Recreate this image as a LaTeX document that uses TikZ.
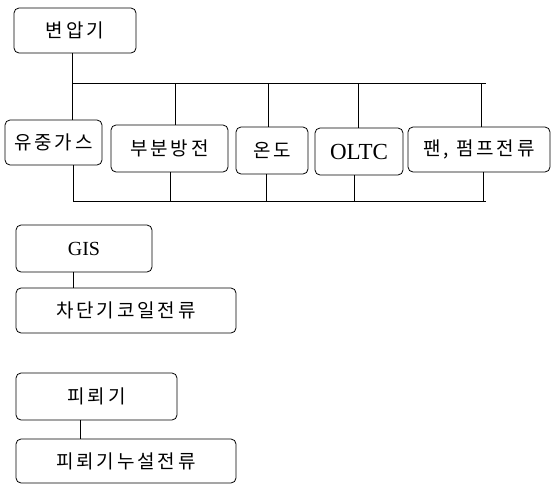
\documentclass[tikz,border=0pt]{standalone}
\usepackage{fontspec}
\setmainfont{Liberation Serif}
\newfontfamily\kr[LetterSpace=15]{Noto Sans CJK KR}
\begin{document}
\begin{tikzpicture}[x=1pt,y=-1pt,
  box/.style={draw,line width=0.8pt,rounded corners=5pt,inner sep=0pt,font=\kr\fontsize{19}{21}\selectfont},
  lat/.style={font=\fontsize{20}{22}\selectfont},
  wire/.style={line width=0.7pt}]
\useasboundingbox (0,0) rectangle (552,485);
\node[box,minimum width=122pt,minimum height=45pt] (tr) at (75,30.5) {변압기};
\node[box,minimum width=97pt,minimum height=45pt] (gas) at (53.5,142.5) {유중가스};
\node[box,minimum width=117pt,minimum height=47pt] (pd) at (169.5,148.5) {부분방전};
\node[box,minimum width=72pt,minimum height=47pt] (tmp) at (272,150.5) {온도};
\node[box,lat,font=\fontsize{23}{25}\selectfont,minimum width=88pt,minimum height=47pt] (oltc) at (359,151.5) {OLTC};
\node[box,minimum width=142pt,minimum height=45pt] (fan) at (479,149.5) {팬, 펌프전류};
\node[box,lat,minimum width=136pt,minimum height=47pt] (gis) at (84,248.5) {GIS};
\node[box,minimum width=220pt,minimum height=45pt] (coil) at (126,310.5) {차단기코일전류};
\node[box,minimum width=161pt,minimum height=47pt] (la) at (96.5,396.5) {피뢰기};
\node[box,minimum width=220pt,minimum height=44pt] (leak) at (126,461) {피뢰기누설전류};
% bus coordinates
\coordinate (tbL) at (72,83);
\coordinate (tbR) at (486,83);
\coordinate (bbL) at (73,201);
\coordinate (bbR) at (486,201);
\coordinate (x1) at (175,0);
\coordinate (x2) at (268,0);
\coordinate (x3) at (358,0);
\coordinate (x4) at (481,0);
\coordinate (b1) at (170,0);
\coordinate (b2) at (266,0);
\coordinate (b3) at (354,0);
\coordinate (b4) at (483,0);
\coordinate (g1) at (73,0);
\coordinate (l1) at (80,0);
% top bus
\draw[wire] (tr.south -| tbL) -- (gas.north -| tbL);
\draw[wire] (tbL) -- (tbR);
\draw[wire] (tbL -| x1) -- (pd.north -| x1);
\draw[wire] (tbL -| x2) -- (tmp.north -| x2);
\draw[wire] (tbL -| x3) -- (oltc.north -| x3);
\draw[wire] (tbL -| x4) -- (fan.north -| x4);
% bottom bus
\draw[wire] (gas.south -| bbL) -- (bbL) -- (bbR);
\draw[wire] (pd.south -| b1) -- (bbL -| b1);
\draw[wire] (tmp.south -| b2) -- (bbL -| b2);
\draw[wire] (oltc.south -| b3) -- (bbL -| b3);
\draw[wire] (fan.south -| b4) -- (bbL -| b4);
% GIS and arrester
\draw[wire] (gis.south -| g1) -- (coil.north -| g1);
\draw[wire] (la.south -| l1) -- (leak.north -| l1);
\end{tikzpicture}
\end{document}
